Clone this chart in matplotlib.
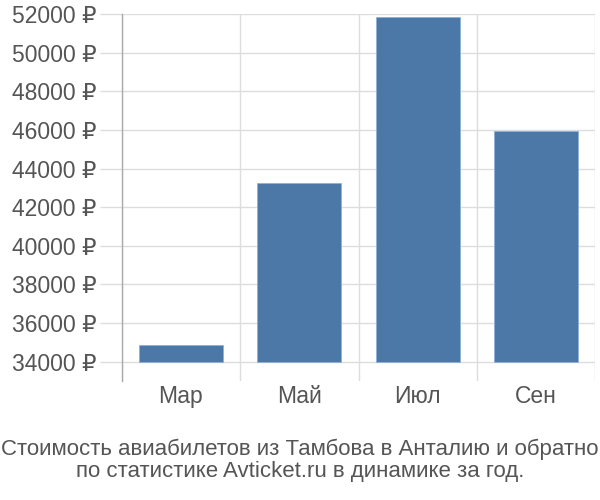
import numpy as np
import matplotlib
matplotlib.use("Agg")
import matplotlib.pyplot as plt
from matplotlib.ticker import FixedLocator, FuncFormatter

plt.rcParams['font.family'] = ['Liberation Sans', 'DejaVu Sans']

months = ["Мар", "Май", "Июл", "Сен"]
prices = [34880, 43250, 51840, 45920]
y_ticks = [34000, 36000, 38000, 40000, 42000, 44000, 46000, 48000, 50000, 52000]
title = ("Стоимость авиабилетов из Тамбова в Анталию и обратно\n"
         "по статистике Avticket.ru в динамике за год.")

text_col = "#555555"
grid_col = "#dddddd"

fig = plt.figure(figsize=(6, 5), dpi=100)
ax = fig.add_axes([0.203, 0.238, 0.789, 0.734])

x = np.arange(len(months))
base = y_ticks[0]
ax.bar(x, [p - base for p in prices], bottom=base, width=0.71,
       color="#4c78a8", edgecolor="#8fb0d8", linewidth=0.6, zorder=3)

ax.set_xlim(-0.5, len(months) - 0.5)
ax.set_ylim(33000, 52000)

ax.set_yticks(y_ticks)
ax.yaxis.set_major_formatter(FuncFormatter(lambda v, p: f"{int(v)} ₽"))
ax.set_xticks(x)
ax.set_xticklabels(months)
ax.xaxis.set_minor_locator(FixedLocator(np.arange(-0.5, len(months), 1.0)))

ax.grid(axis="y", which="major", color=grid_col, linewidth=1, zorder=0)
ax.grid(axis="x", which="minor", color=grid_col, linewidth=1, zorder=0)

ax.tick_params(axis="y", which="major", length=16, color=grid_col, width=1,
               labelsize=16.5, labelcolor=text_col, pad=2)
ax.tick_params(axis="x", which="major", length=0, labelsize=16.5,
               labelcolor=text_col, pad=3)
ax.tick_params(axis="x", which="minor", length=0)

for s in ["top", "right", "bottom"]:
    ax.spines[s].set_visible(False)
ax.spines["left"].set_color("#aaaaaa")
ax.spines["left"].set_linewidth(1)

fig.text(0.5, 0.035, title, ha="center", va="bottom", fontsize=16,
         color=text_col, linespacing=1.1)

fig.savefig("out.png", dpi=100)
